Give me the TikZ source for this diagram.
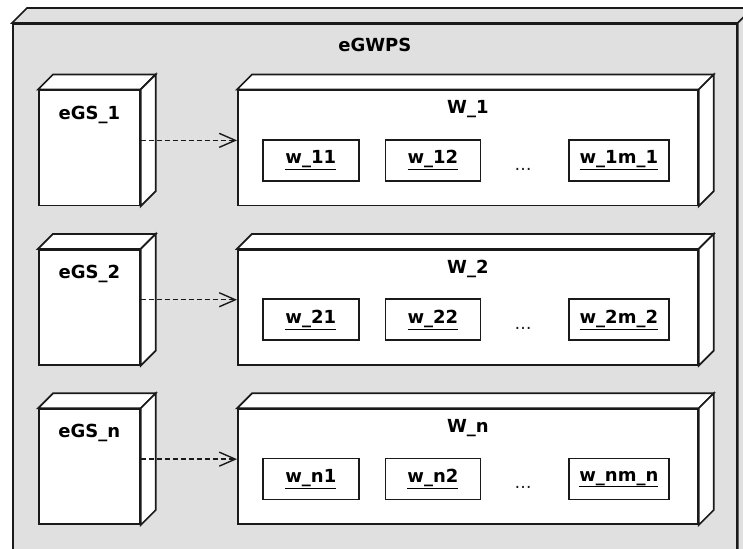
\documentclass[tikz,border=0pt]{standalone}
\usepackage{fontspec}
\setmainfont{DejaVu Sans}
\usetikzlibrary{arrows.meta,positioning,calc}
\definecolor{framegray}{HTML}{E0E0E0}
\definecolor{linedark}{HTML}{1A1A1A}
\tikzset{
  front/.style={draw=linedark, fill=white, line width=1.7pt, inner sep=0pt, anchor=north west},
  depthface/.style={draw=linedark, line width=1.7pt, line join=miter},
  partbox/.style={draw=linedark, fill=white, line width=1.6pt, inner sep=0pt, anchor=north west,
    minimum height=41pt, font=\bfseries\fontsize{18}{21}\selectfont},
  boxlabel/.style={font=\bfseries\fontsize{18}{21}\selectfont, inner sep=0pt},
  dotslabel/.style={font=\fontsize{17}{20}\selectfont, text=linedark, inner sep=0pt, anchor=base},
  dep/.style={-{Straight Barb[length=16pt,width=14pt]}, dash pattern=on 5pt off 3pt,
    line width=1.4pt, draw=linedark}
}
% top and side face of a 3d box: node, fill, depth
\newcommand{\cubesides}[3]{%
  \draw[depthface, fill=#2] (#1.north west) -- ++(#3,-#3)
    -- ([xshift=#3pt,yshift=#3pt]#1.north east) -- (#1.north east) -- cycle;
  \draw[depthface, fill=#2] (#1.north east) -- ++(#3,-#3)
    -- ([xshift=#3pt,yshift=#3pt]#1.south east) -- (#1.south east) -- cycle;
}
\begin{document}
\begin{tikzpicture}[x=1pt,y=-1pt]
  \clip (0,0) rectangle (743,548);
  \fill[white] (0,0) rectangle (743,548);

  % outer node
  \node[front, fill=framegray, minimum width=724pt, minimum height=547pt] (eGWPS) at (12,23) {};
  \cubesides{eGWPS}{framegray}{15}
  \node[boxlabel, below=15pt of eGWPS.north] (eGWPSlbl) {eGWPS};

  \foreach \i/\ro in {1/0,2/1,n/2} {
    \pgfmathsetmacro\rowtop{89.5+159.4*\ro}
    \pgfmathsetmacro\parttop{\rowtop+49.5}
    % generator
    \node[front, minimum width=101pt, minimum height=115pt] (gs\i) at (38,\rowtop) {};
    \cubesides{gs\i}{white}{15}
    \node[boxlabel, below=16pt of gs\i.north] (gslbl\i) {eGS\_\i};
    % work set
    \node[front, minimum width=460pt, minimum height=115pt] (W\i) at (237,\rowtop) {};
    \cubesides{W\i}{white}{15}
    \node[boxlabel, below=11pt of W\i.north] (Wlbl\i) {W\_\i};
    \node[partbox, minimum width=96pt] (w\i1) at (262,\parttop) {\underline{w\_\i1}};
    \node[partbox, minimum width=95pt, right=25pt of w\i1] (w\i2) {\underline{w\_\i2}};
    \node[dotslabel] (dots\i) at (523,\parttop+31) {\dots};
    \node[partbox, minimum width=100pt] (w\i m) at (568,\parttop) {\underline{w\_\i m\_\i}};
    \draw[dep] ([yshift=7.5pt]gs\i.east) -- ([yshift=7.5pt]W\i.west);
  }
\end{tikzpicture}
\end{document}
